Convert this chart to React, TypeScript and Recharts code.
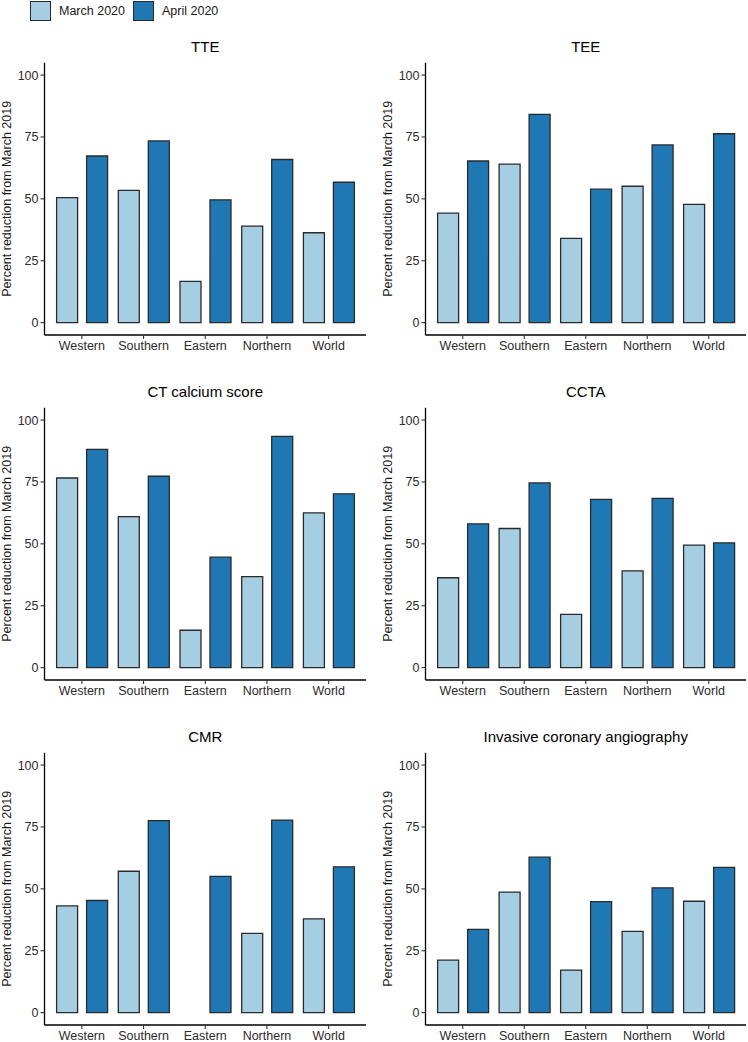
import React from "react";
import { Bar, BarChart, XAxis, YAxis } from "recharts";

const regions = ["Western", "Southern", "Eastern", "Northern", "World"];
const yTicks = [0, 25, 50, 75, 100];
const seriesNames = ["March 2020", "April 2020"];

const tteMarch = [50.5, 53.4, 16.7, 39.0, 36.3];
const tteApril = [67.3, 73.4, 49.6, 65.9, 56.7];
const teeMarch = [44.2, 64.0, 34.0, 55.1, 47.8];
const teeApril = [65.3, 84.1, 53.9, 71.8, 76.3];
const calciumMarch = [76.6, 61.0, 15.1, 36.8, 62.5];
const calciumApril = [88.2, 77.3, 44.6, 93.4, 70.2];
const cctaMarch = [36.3, 56.2, 21.5, 39.1, 49.5];
const cctaApril = [58.1, 74.6, 68.0, 68.4, 50.4];
const cmrMarch = [43.1, 57.1, null, 32.0, 37.9];
const cmrApril = [45.3, 77.6, 55.0, 77.8, 58.9];
const icaMarch = [21.2, 48.7, 17.2, 32.8, 45.0];
const icaApril = [33.6, 62.8, 44.8, 50.4, 58.7];

const panels = [
  { title: "TTE", march: tteMarch, april: tteApril },
  { title: "TEE", march: teeMarch, april: teeApril },
  { title: "CT calcium score", march: calciumMarch, april: calciumApril },
  { title: "CCTA", march: cctaMarch, april: cctaApril },
  { title: "CMR", march: cmrMarch, april: cmrApril },
  { title: "Invasive coronary angiography", march: icaMarch, april: icaApril },
];

const light = "#a6cee3";
const dark = "#1f78b4";
const edge = "#2a2a2a";
const font = "'Liberation Sans', Arial, Helvetica, sans-serif";

const colLeft = [0, 381];
const colWidth = [370, 365];
const colMarginRight = [4, 0];
const yAxisWidth = 44.5;
const rowStep = 345;

function Panel({ title, march, april, col, row }: any) {
  const data = regions.map((region, i) => ({
    region,
    march: march[i],
    april: april[i],
  }));
  const left = colLeft[col];
  const width = colWidth[col];
  const plotWidth = width - yAxisWidth - colMarginRight[col];

  return (
    <>
      <div
        style={{
          position: "absolute",
          left: left + yAxisWidth,
          top: 39 + row * rowStep,
          width: plotWidth,
          textAlign: "center",
          fontSize: 15,
          lineHeight: "15px",
          color: "#000",
        }}
      >
        {title}
      </div>
      <div style={{ position: "absolute", left, top: 20 + row * rowStep }}>
        <BarChart
          width={width}
          height={335}
          data={data}
          margin={{ top: 42.7, right: colMarginRight[col], bottom: 0, left: 0 }}
          barCategoryGap={5.6}
          barGap={9}
        >
          <XAxis
            dataKey="region"
            interval={0}
            height={20}
            tickSize={4}
            tickMargin={2.5}
            padding={{ left: 6.5, right: 6.5 }}
            axisLine={{ stroke: "#000", strokeWidth: 1.3 }}
            tickLine={{ stroke: "#333", strokeWidth: 1.1 }}
            tick={{ fontSize: 12.5, fill: "#2b2b2b" }}
          />
          <YAxis
            type="number"
            width={yAxisWidth}
            domain={[-5, 105]}
            ticks={yTicks}
            allowDataOverflow
            tickSize={4}
            tickMargin={2}
            axisLine={{ stroke: "#000", strokeWidth: 1.3 }}
            tickLine={{ stroke: "#333", strokeWidth: 1.1 }}
            tick={{ fontSize: 12.5, fill: "#2b2b2b" }}
            label={{
              value: "Percent reduction from March 2019",
              angle: -90,
              position: "insideLeft",
              offset: 6.5,
              style: { textAnchor: "middle", fontSize: 12.5, fill: "#1a1a1a" },
            }}
          />
          <Bar
            dataKey="march"
            name={seriesNames[0]}
            fill={light}
            stroke={edge}
            strokeWidth={1.3}
            isAnimationActive={false}
          />
          <Bar
            dataKey="april"
            name={seriesNames[1]}
            fill={dark}
            stroke={edge}
            strokeWidth={1.3}
            isAnimationActive={false}
          />
        </BarChart>
      </div>
    </>
  );
}

export default function App() {
  const swatch = (left: number, color: string) => (
    <div
      style={{
        position: "absolute",
        left,
        top: 1,
        width: 19,
        height: 18,
        background: color,
        border: `1.3px solid ${edge}`,
      }}
    />
  );
  const legendText = (left: number, text: string) => (
    <div
      style={{
        position: "absolute",
        left,
        top: 4,
        fontSize: 12.5,
        lineHeight: "15px",
        color: "#1a1a1a",
        whiteSpace: "nowrap",
      }}
    >
      {text}
    </div>
  );

  return (
    <div
      style={{
        position: "absolute",
        left: 0,
        top: 0,
        width: 748,
        height: 1042,
        overflow: "hidden",
        background: "#fff",
        fontFamily: font,
      }}
    >
      {swatch(30, light)}
      {legendText(59, seriesNames[0])}
      {swatch(132.5, dark)}
      {legendText(162, seriesNames[1])}
      {panels.map((p, i) => (
        <Panel
          key={p.title}
          title={p.title}
          march={p.march}
          april={p.april}
          col={i % 2}
          row={Math.floor(i / 2)}
        />
      ))}
    </div>
  );
}
